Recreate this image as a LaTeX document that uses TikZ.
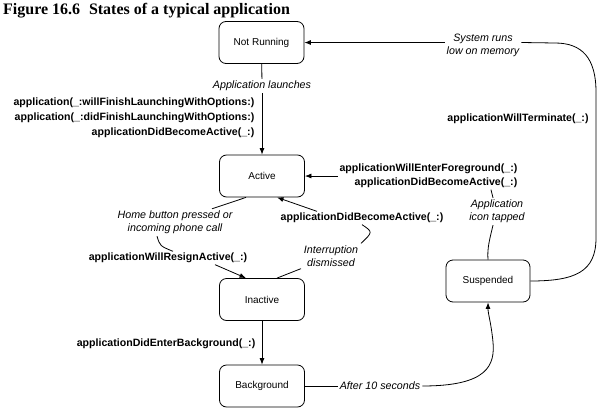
\documentclass[tikz,border=0pt]{standalone}
\usepackage{fontspec}
\setmainfont{Liberation Serif}
\setsansfont{Liberation Sans}
\usetikzlibrary{arrows.meta}
\begin{document}
\begin{tikzpicture}[x=1pt,y=-1pt,
  state/.style={draw, line width=0.8pt, rounded corners=7pt, minimum width=85pt, minimum height=42pt, font=\sffamily\fontsize{10}{12}\selectfont, inner sep=0pt},
  cb/.style={font=\sffamily\bfseries\fontsize{10.6}{15}\selectfont, inner sep=1.5pt},
  cbb/.style={font=\sffamily\bfseries\fontsize{10.6}{14}\selectfont, inner sep=1.5pt},
  ev/.style={font=\sffamily\itshape\fontsize{10.7}{13}\selectfont, align=center, inner sep=2pt},
  conn/.style={line width=0.8pt},
  arr/.style={conn, -{Latex[length=6.5pt,width=5pt]}}]
\useasboundingbox (0,0) rectangle (600,410);

\node[anchor=base west, font=\rmfamily\bfseries\fontsize{16}{18}\selectfont, inner sep=0pt] (title) at (3,14) {Figure 16.6\hspace{0.55em}States of a typical application};

\node[state] (nr) at (261.5,42.5) {Not Running};
\node[state] (act) at (262,176) {Active};
\node[state] (ina) at (262,299.5) {Inactive};
\node[state] (bg) at (262,386) {Background};
\node[state, minimum width=84pt] (sus) at (488,281) {Suspended};

% Not Running -> Active
\node[ev] (launch) at (262,86) {Application launches};
\node[cb, align=right, anchor=east] (launchcb) at (256,118) {application(\_:willFinishLaunchingWithOptions:)\\application(\_:didFinishLaunchingWithOptions:)\\applicationDidBecomeActive(\_:)};
\draw[conn] (nr) -- (launch);
\draw[arr] (launch) -- (act);

% Suspended -> Not Running
\node[ev] (sysmem) at (483,45.5) {System runs\\low on memory};
\draw[arr] (sysmem.west |- nr.east) -- (nr.east);
\draw[conn] (sus.east) .. controls (575,281) and (596,272) .. (596,238) -- (596,92) .. controls (596,58) and (582,43) .. (555,43) -- (sysmem.east |- nr.east);
\node[cb] (term) at (518,119) {applicationWillTerminate(\_:)};

% Suspended -> Active
\node[cbb, align=right, anchor=east] (fgcb) at (519,176) {applicationWillEnterForeground(\_:)\\applicationDidBecomeActive(\_:)};
\draw[arr] (fgcb.west |- act.east) -- (act.east);
\node[ev] (icon) at (497,211.5) {Application\\icon tapped};
\draw[conn] (sus.north) .. controls (487,248) and (490,238) .. ([xshift=-4pt]icon.south);
\draw[conn] ([xshift=-4pt]icon.north) -- ([xshift=-6pt]icon.north |- fgcb.south);

% Active -> Inactive
\node[ev] (home) at (175,222.5) {Home button pressed or\\incoming phone call};
\draw[conn] ([xshift=-16pt]act.south) -- ([xshift=37pt]home.north);
\node[cb] (resign) at (168,258) {applicationWillResignActive(\_:)};
\draw[conn] ([xshift=-18pt]home.south) .. controls (160,246) .. ([xshift=5pt]resign.north);
\draw[arr] ([xshift=47pt]resign.south) -- ([xshift=-16pt]ina.north);

% Inactive -> Active
\node[ev] (intr) at (331,256) {Interruption\\dismissed};
\draw[conn] ([xshift=15pt]ina.north) -- ([xshift=-30pt]intr.south);
\node[cb] (dba) at (362,218) {applicationDidBecomeActive(\_:)};
\draw[conn] (dba.south) .. controls (373,232) .. ([xshift=30pt]intr.north);
\draw[arr] ([xshift=-45pt]dba.north) -- ([xshift=15pt]act.south);

% Inactive -> Background
\node[cb, anchor=east] (entbg) at (257,344) {applicationDidEnterBackground(\_:)};
\draw[arr] (ina) -- (bg);

% Background -> Suspended
\node[ev] (after) at (380,386) {After 10 seconds};
\draw[conn] (bg.east) -- (after.west);
\draw[arr] (after.east) .. controls (488,386) and (495,365) .. (493,342) .. controls (491,322) and (488,314) .. (sus.south);
\end{tikzpicture}
\end{document}
